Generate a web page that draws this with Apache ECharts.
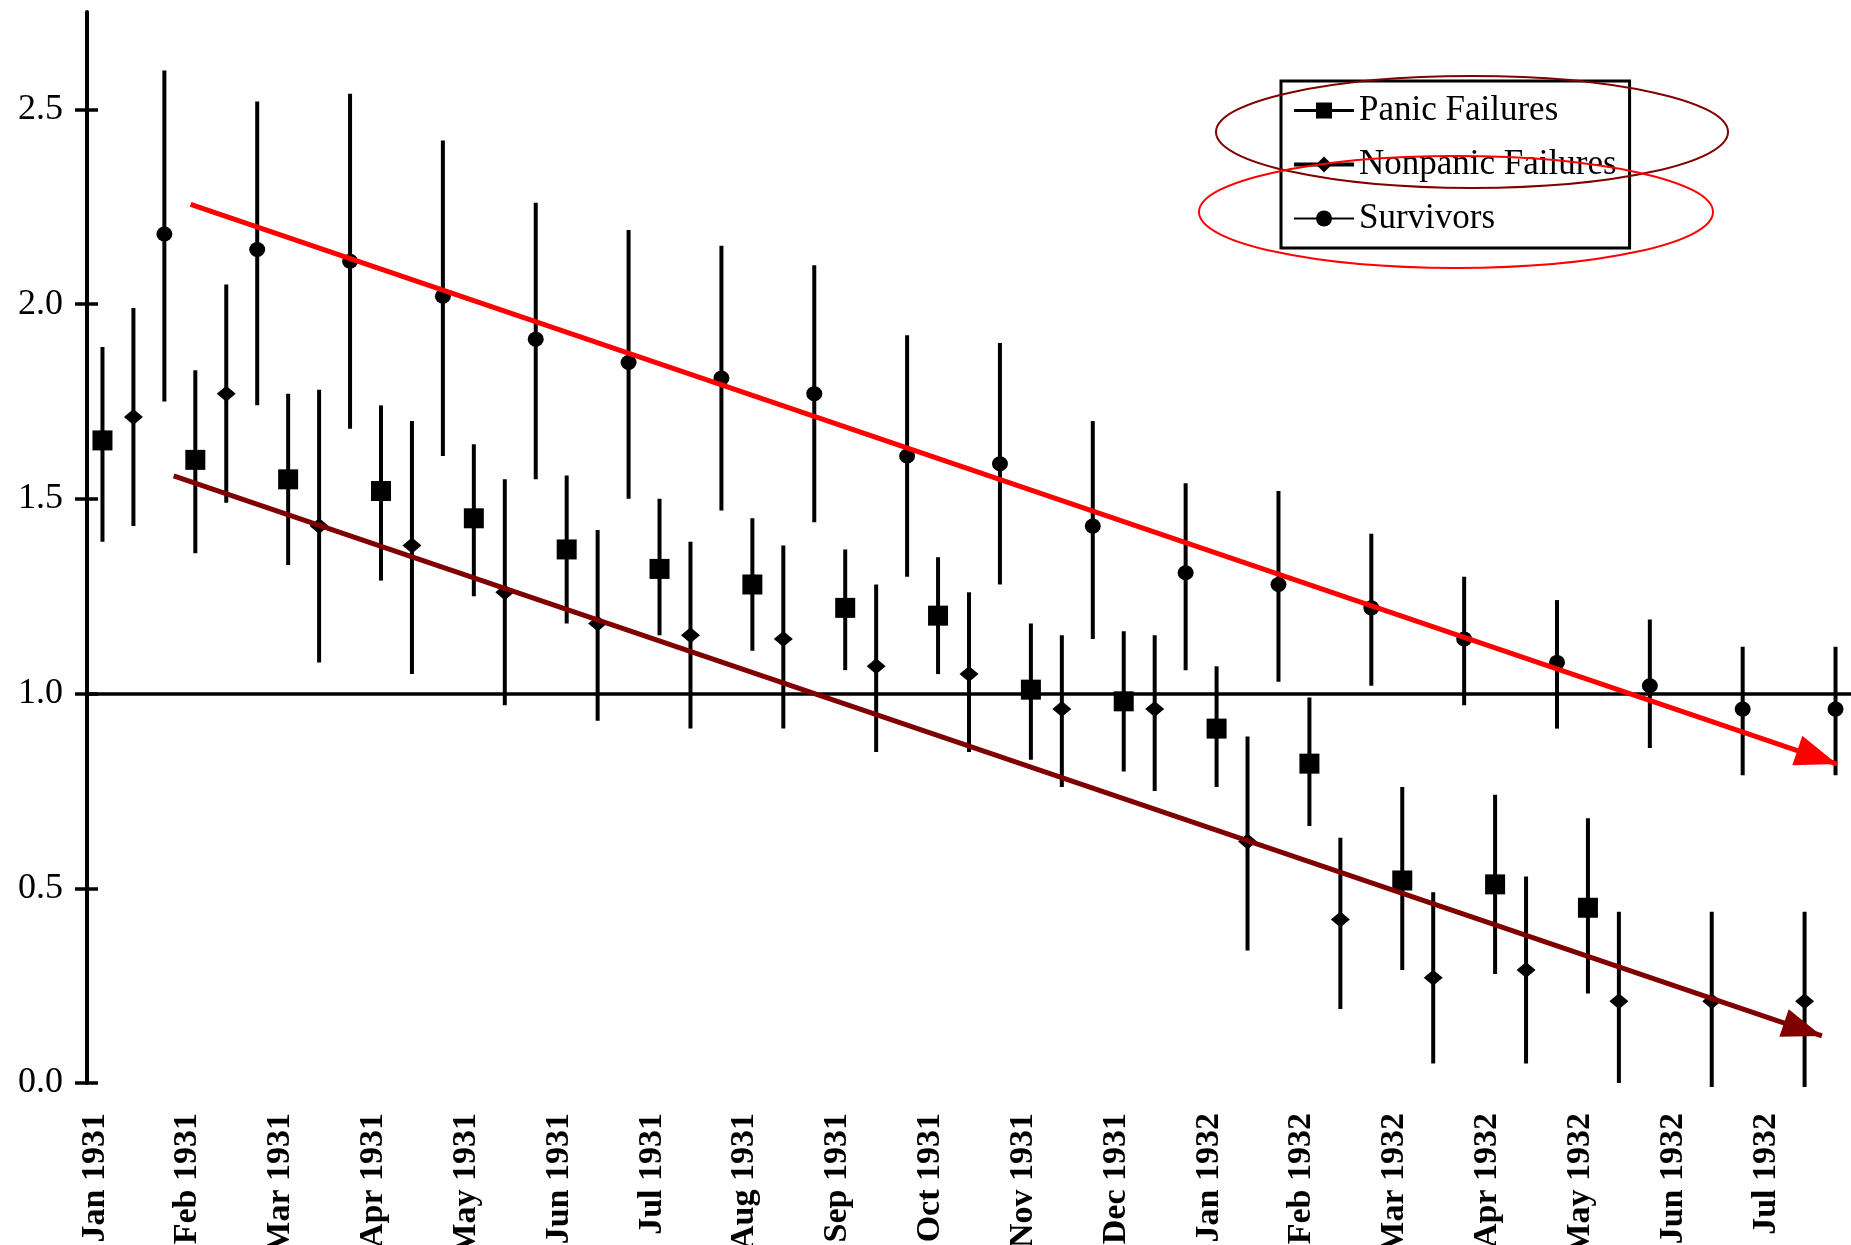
<!DOCTYPE html>
<html>
<head>
<meta charset="utf-8">
<script src="https://cdn.jsdelivr.net/npm/echarts@6/dist/echarts.min.js"></script>
<style>
html,body{margin:0;padding:0;background:#fff;}
#chart{width:1851px;height:1245px;}
</style>
</head>
<body>
<div id="chart"></div>
<script>
// ---- data ----
const months = ['Jan 1931','Feb 1931','Mar 1931','Apr 1931','May 1931','Jun 1931','Jul 1931','Aug 1931','Sep 1931','Oct 1931','Nov 1931','Dec 1931','Jan 1932','Feb 1932','Mar 1932','Apr 1932','May 1932','Jun 1932','Jul 1932'];

const panic     = [1.65,1.60,1.55,1.52,1.45,1.37,1.32,1.28,1.22,1.20,1.01,0.98,0.91,0.82,0.52,0.51,0.45,null,null];
const panicLow  = [1.39,1.36,1.33,1.29,1.25,1.18,1.15,1.11,1.06,1.05,0.83,0.80,0.76,0.66,0.29,0.28,0.23,null,null];
const panicHigh = [1.89,1.83,1.77,1.74,1.64,1.56,1.50,1.45,1.37,1.35,1.18,1.16,1.07,0.99,0.76,0.74,0.68,null,null];

const nonpanic     = [1.71,1.77,1.43,1.38,1.26,1.18,1.15,1.14,1.07,1.05,0.96,0.96,0.62,0.42,0.27,0.29,0.21,0.21,0.21];
const nonpanicLow  = [1.43,1.49,1.08,1.05,0.97,0.93,0.91,0.91,0.85,0.85,0.76,0.75,0.34,0.19,0.05,0.05,0.00,-0.01,-0.01];
const nonpanicHigh = [1.99,2.05,1.78,1.70,1.55,1.42,1.39,1.38,1.28,1.26,1.15,1.15,0.89,0.63,0.49,0.53,0.44,0.44,0.44];

const survivors     = [2.18,2.14,2.11,2.02,1.91,1.85,1.81,1.77,1.61,1.59,1.43,1.31,1.28,1.22,1.14,1.08,1.02,0.96,0.96];
const survivorsLow  = [1.75,1.74,1.68,1.61,1.55,1.50,1.47,1.44,1.30,1.28,1.14,1.06,1.03,1.02,0.97,0.91,0.86,0.79,0.79];
const survivorsHigh = [2.60,2.52,2.54,2.42,2.26,2.19,2.15,2.10,1.92,1.90,1.70,1.54,1.52,1.41,1.30,1.24,1.19,1.12,1.12];

const yTicks = [0, 0.5, 1.0, 1.5, 2.0, 2.5];
const refLevel = 1.0;

// trend annotations: [slot position, value] start and arrow tip
const trendSurvivors = [[2.85, 2.256], [56.05, 0.819]];
const trendNonpanic  = [[2.30, 1.559], [55.56, 0.121]];

// ---- helpers ----
const GROUPS = 3; // slots per month: panic, nonpanic, survivors
function points(vals, k) {
  const out = [];
  vals.forEach((v, m) => { if (v != null) out.push([GROUPS * m + k, v]); });
  return out;
}
function bars(lo, hi, k) {
  const out = [];
  lo.forEach((l, m) => { if (l != null && hi[m] != null) out.push([GROUPS * m + k, l, hi[m]]); });
  return out;
}
const LABEL_SHIFT = -0.25;

const FONT = 'Liberation Serif';

function errRender(params, api) {
  const x = api.value(0);
  const p1 = api.coord([x, api.value(1)]);
  const p2 = api.coord([x, api.value(2)]);
  return {
    type: 'line',
    shape: { x1: p1[0], y1: p1[1], x2: p2[0], y2: p2[1] },
    style: { stroke: '#000', lineWidth: 4 }
  };
}
function errSeries(name, lo, hi, k) {
  return {
    type: 'custom', name: name, renderItem: errRender,
    data: bars(lo, hi, k), encode: { x: 0, y: [1, 2] },
    silent: true, z: 2, clip: false
  };
}
function markerSeries(name, vals, k, symbol, size) {
  return {
    type: 'line', name: name, data: points(vals, k),
    symbol: symbol, symbolSize: size, showSymbol: true,
    itemStyle: { color: '#000' },
    lineStyle: { opacity: 0, width: 0 },
    emphasis: { disabled: true }, silent: true, z: 3
  };
}

const chart = echarts.init(document.getElementById('chart'), null, { renderer: 'canvas' });

const option = {
  animation: false,
  backgroundColor: '#fff',
  grid: { left: 87, right: 0, top: 12, bottom: 162, containLabel: false, outerBoundsMode: 'none' },
  xAxis: {
    type: 'value', min: -0.5, max: GROUPS * months.length - 0.5,
    axisLine: { show: false, onZero: false }, axisTick: { show: false }, splitLine: { show: false },
    axisLabel: {
      customValues: months.map((_, m) => GROUPS * m + LABEL_SHIFT),
      formatter: v => months[Math.round((v - LABEL_SHIFT) / GROUPS)],
      rotate: 90, margin: 30, hideOverlap: false,
      fontFamily: FONT, fontWeight: 'bold', fontSize: 34, color: '#000'
    }
  },
  yAxis: [
    {
      type: 'value', min: 0, max: 2.75, interval: 0.5, position: 'left',
      axisLine: { show: true, onZero: false, lineStyle: { color: '#000', width: 4 } },
      axisTick: { show: true, customValues: yTicks, length: 12, lineStyle: { color: '#000', width: 3.5 } },
      axisLabel: {
        customValues: yTicks, formatter: v => Number(v).toFixed(1), margin: 24,
        fontFamily: FONT, fontSize: 36, color: '#000'
      },
      splitLine: { show: false }
    },
    {
      type: 'value', min: 0, max: 2.75, interval: 0.5, position: 'left', offset: 0,
      axisLine: { show: false, onZero: false },
      axisTick: { show: true, inside: true, customValues: yTicks, length: 11, lineStyle: { color: '#000', width: 3.5 } },
      axisLabel: { show: false },
      splitLine: { show: false }
    }
  ],
  legend: {
    data: [
      { name: 'Panic Failures', lineStyle: { width: 3 } },
      { name: 'Nonpanic Failures', lineStyle: { width: 4 } },
      { name: 'Survivors', lineStyle: { width: 2 } }
    ],
    orient: 'vertical', left: 1281, top: 81,
    padding: [12, 13, 12, 11], itemGap: 19, itemWidth: 60, itemHeight: 20,
    borderColor: '#000', borderWidth: 3, borderRadius: 0, backgroundColor: '#fff',
    textStyle: { fontFamily: FONT, fontSize: 35, color: '#000', lineHeight: 34 },
    lineStyle: { color: '#000', opacity: 1, width: 3 },
    itemStyle: { color: '#000' },
    selectedMode: false
  },
  series: [
    errSeries('err-panic', panicLow, panicHigh, 0),
    errSeries('err-nonpanic', nonpanicLow, nonpanicHigh, 1),
    errSeries('err-survivors', survivorsLow, survivorsHigh, 2),
    Object.assign(markerSeries('Panic Failures', panic, 0, 'rect', 20), {
      markLine: {
        silent: true, symbol: 'none', label: { show: false }, animation: false,
        data: [{ yAxis: refLevel, lineStyle: { color: '#000', width: 3.5, type: 'solid' } }]
      }
    }),
    markerSeries('Nonpanic Failures', nonpanic, 1, 'diamond', [19, 16]),
    markerSeries('Survivors', survivors, 2, 'circle', [16, 15]),
    {
      type: 'line', name: 'trend', data: [], z: 5, silent: true,
      markLine: {
        silent: true, animation: false,
        symbol: ['none', 'triangle'],
        label: { show: false },
        emphasis: { disabled: true },
        data: [
          [
            { coord: trendSurvivors[0], symbolSize: [31, 42], symbolOffset: [0, 21], lineStyle: { color: '#ff0000', width: 5, type: 'solid' } },
            { coord: trendSurvivors[1], symbolSize: [31, 42], symbolOffset: [0, 21], lineStyle: { color: '#ff0000', width: 5, type: 'solid' } }
          ],
          [
            { coord: trendNonpanic[0], symbolSize: [29, 40], symbolOffset: [0, 20], lineStyle: { color: '#800000', width: 5, type: 'solid' } },
            { coord: trendNonpanic[1], symbolSize: [29, 40], symbolOffset: [0, 20], lineStyle: { color: '#800000', width: 5, type: 'solid' } }
          ]
        ]
      }
    }
  ],
  graphic: [
    { type: 'ellipse', z: 100, silent: true, shape: { cx: 1472, cy: 132, rx: 256, ry: 56 },
      style: { fill: 'none', stroke: '#800000', lineWidth: 2 } },
    { type: 'ellipse', z: 100, silent: true, shape: { cx: 1456, cy: 212, rx: 257, ry: 56 },
      style: { fill: 'none', stroke: '#ff0000', lineWidth: 2 } }
  ]
};
chart.setOption(option);
</script>
</body>
</html>
